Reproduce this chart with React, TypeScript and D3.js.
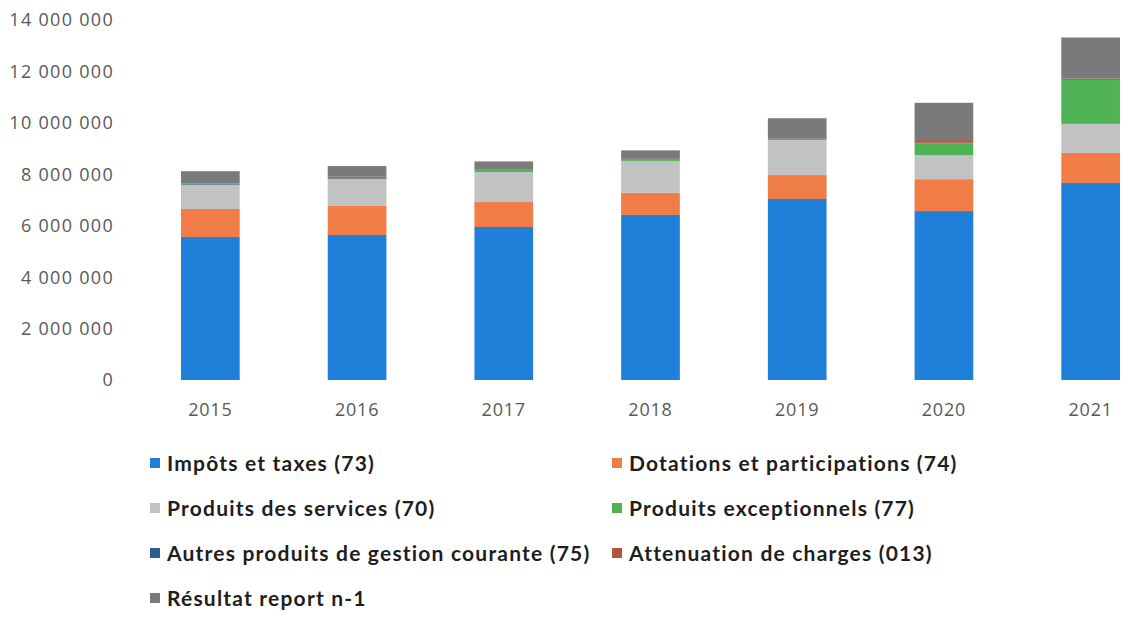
import * as d3 from 'd3';
import React from 'react';

const width = 1130;
const height = 617;
const margin = { top: 20, right: 0, bottom: 237, left: 137 };

// values in euros
const years = ['2015', '2016', '2017', '2018', '2019', '2020', '2021'];
const impots = [5560000, 5640000, 5950000, 6420000, 7040000, 6570000, 7660000];
const dotations = [1090000, 1130000, 970000, 860000, 930000, 1240000, 1170000];
const services = [930000, 1050000, 1170000, 1240000, 1360000, 930000, 1130000];
const exceptionnels = [20000, 10000, 80000, 50000, 20000, 470000, 1710000];
const autres = [30000, 30000, 20000, 20000, 20000, 20000, 30000];
const attenuation = [20000, 60000, 10000, 10000, 10000, 100000, 20000];
const resultat = [470000, 400000, 300000, 330000, 800000, 1450000, 1600000];
const yTicks = [0, 2000000, 4000000, 6000000, 8000000, 10000000, 12000000, 14000000];

const series = [
  { key: 'impots', label: 'Impôts et taxes (73)', color: '#1f80d9', values: impots },
  { key: 'dotations', label: 'Dotations et participations (74)', color: '#ef7d45', values: dotations },
  { key: 'services', label: 'Produits des services (70)', color: '#c2c2c2', values: services },
  { key: 'exceptionnels', label: 'Produits exceptionnels (77)', color: '#4fb356', values: exceptionnels },
  { key: 'autres', label: 'Autres produits de gestion courante (75)', color: '#2a5f8f', values: autres },
  { key: 'attenuation', label: 'Attenuation de charges (013)', color: '#b0553f', values: attenuation },
  { key: 'resultat', label: 'Résultat report n-1', color: '#7a7a7a', values: resultat }
];

const rows = years.map((year, i) => {
  const row: any = { year };
  series.forEach(s => (row[s.key] = s.values[i]));
  return row;
});

const stacked = d3.stack().keys(series.map(s => s.key))(rows);

const xScale = d3
  .scaleBand()
  .domain(years)
  .range([margin.left, width + 34])
  .paddingInner(0.6)
  .paddingOuter(0.3);
const yScale = d3
  .scaleLinear()
  .domain([0, 14000000])
  .range([height - margin.bottom, margin.top]);

const fmt = (v: number) => d3.format(',')(v).replace(/,/g, ' ');

// legend layout: two columns, four rows
const legendCols = [150, 612];
const legendRows = [463, 508, 553, 598];

export default function App() {
  const baseY = yScale(0);
  return (
    <div style={{ position: 'absolute', left: 0, top: 0 }}>
      <svg width={width} height={height} style={{ display: 'block', background: '#fff' }}>
        {/* y axis labels */}
        <g fontFamily="Open Sans" fontSize="18" fill="#595959" style={{ letterSpacing: '1.3px' }}>
          {yTicks.map(t => (
            <text key={t} x={114} y={yScale(t)} dy="0.36em" textAnchor="end">
              {fmt(t)}
            </text>
          ))}
        </g>
        {/* bars */}
        {stacked.map((layer, si) => (
          <g key={layer.key} fill={series[si].color}>
            {layer.map((d, i) => (
              <rect
                key={years[i]}
                x={xScale(years[i])}
                y={yScale(d[1])}
                width={xScale.bandwidth()}
                height={Math.max(0, yScale(d[0]) - yScale(d[1]))}
              />
            ))}
          </g>
        ))}
        {/* x axis labels */}
        <g fontFamily="Open Sans" fontSize="18" fill="#595959" style={{ letterSpacing: '0.8px' }}>
          {years.map(y => (
            <text key={y} x={(xScale(y) || 0) + xScale.bandwidth() / 2} y={baseY + 30} dy="0.36em" textAnchor="middle">
              {y}
            </text>
          ))}
        </g>
        {/* legend */}
        <g fontFamily="Lato" fontWeight="bold" fontSize="21" fill="#1e1e1e" style={{ letterSpacing: '1.2px' }}>
          {series.map((s, i) => {
            const lx = legendCols[i % 2];
            const ly = legendRows[Math.floor(i / 2)];
            return (
              <g key={s.key} transform={`translate(${lx}, ${ly})`}>
                <rect x={0} y={-5} width={10} height={10} fill={s.color} />
                <text x={17} y={0} dy="0.36em">
                  {s.label}
                </text>
              </g>
            );
          })}
        </g>
      </svg>
    </div>
  );
}
